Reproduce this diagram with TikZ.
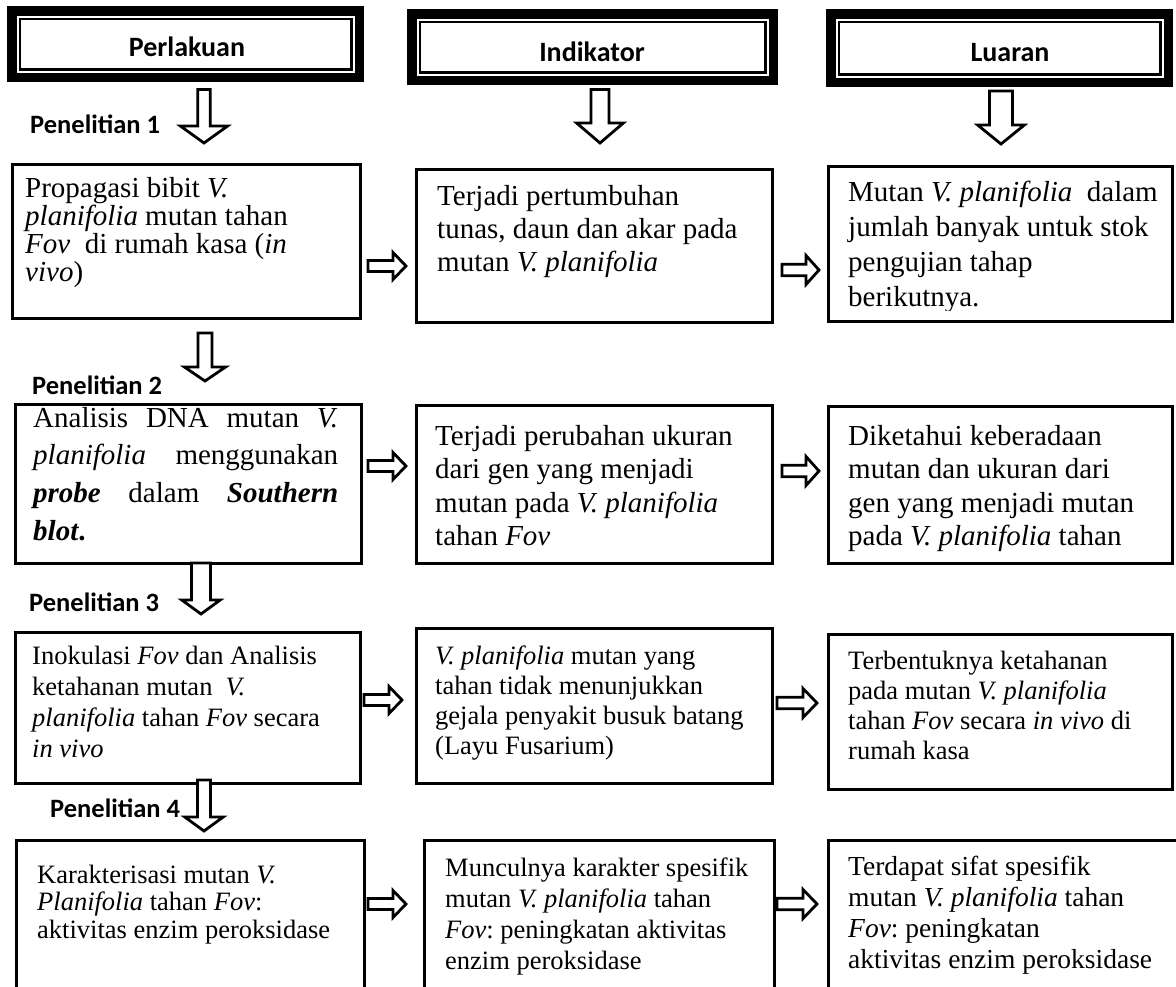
\documentclass[tikz,border=0pt]{standalone}
\usepackage{fontspec}
\setmainfont{Liberation Serif}
\newfontfamily\hdfont{Carlito}
\hbadness=10000 \hfuzz=200pt \vbadness=10000
\frenchspacing
\newcommand{\fs}[2]{\fontsize{#1pt}{#2pt}\selectfont}
\newcommand{\rtxt}[1]{\parbox[t]{420pt}{\raggedright\frenchspacing #1}}
\newcommand{\darrow}[6]{%
  \draw[blk] ({#1-#5},#2) -- ({#1+#5},#2) -- ({#1+#5},#3) -- ({#1+#6},#3) -- (#1,#4) -- ({#1-#6},#3) -- ({#1-#5},#3) -- cycle;}
\newcommand{\rarrow}[6]{%
  \draw[blk] (#1,{#4-#5}) -- (#2,{#4-#5}) -- (#2,{#4-#6}) -- (#3,#4) -- (#2,{#4+#6}) -- (#2,{#4+#5}) -- (#1,{#4+#5}) -- cycle;}
\tikzset{
  box/.style={draw, line width=3pt, inner sep=0pt, anchor=north west, rectangle},
  hdr/.style={inner sep=0pt, anchor=north west, rectangle},
  hdtxt/.style={inner sep=0pt, anchor=base, font=\hdfont\bfseries\fontsize{28pt}{32pt}\selectfont},
  pen/.style={inner sep=0pt, anchor=base west, font=\hdfont\bfseries\fontsize{26.5pt}{30pt}\selectfont},
  txt/.style={inner sep=0pt, anchor=base west},
  blk/.style={draw, line width=2.8pt, fill=white, line join=miter},
}
\begin{document}
\begin{tikzpicture}[x=1pt,y=-1pt]
\useasboundingbox (0,0) rectangle (1176,986);
\fill[white] (0,0) rectangle (1176,986);

% header boxes
\node[hdr, minimum width=357pt, minimum height=76pt] (H1) at (7,6) {};
\node[hdr, minimum width=371pt, minimum height=76pt] (H2) at (407,9) {};
\node[hdr, minimum width=347pt, minimum height=78pt] (H3) at (826,9) {};
\foreach \h in {H1,H2,H3}{
  \draw[line width=9.5pt] ([shift={(4.75,4.75)}]\h.north west) rectangle ([shift={(-4.75,-4.75)}]\h.south east);
  \draw[line width=2.3pt] ([shift={(13,13)}]\h.north west) rectangle ([shift={(-13,-13)}]\h.south east);
}
\node[hdtxt] (T1) at (187,56) {Perlakuan};
\node[hdtxt] (T2) at (592,61) {Indikator};
\node[hdtxt] (T3) at (1010,61) {Luaran};

% content boxes
\node[box, minimum width=348pt, minimum height=154pt] (L1) at (10.5,162.5) {};
\node[box, minimum width=356pt, minimum height=153pt] (M1) at (414.5,167.5) {};
\node[box, minimum width=344pt, minimum height=155pt] (R1) at (826.5,164.5) {};
\node[box, minimum width=346pt, minimum height=159pt] (L2) at (13.5,402.5) {};
\node[box, minimum width=356pt, minimum height=158pt] (M2) at (414.5,403.5) {};
\node[box, minimum width=344pt, minimum height=157pt] (R2) at (826.5,404.5) {};
\node[box, minimum width=345pt, minimum height=151pt] (L3) at (13.5,630.5) {};
\node[box, minimum width=356pt, minimum height=155pt] (M3) at (414.5,626.5) {};
\node[box, minimum width=344pt, minimum height=155pt] (R3) at (826.5,632.5) {};
\node[box, minimum width=348pt, minimum height=200pt] (L4) at (14.5,838.5) {};
\node[box, minimum width=350pt, minimum height=200pt] (M4) at (422.5,838.5) {};
\node[box, minimum width=380pt, minimum height=200pt] (R4) at (826.5,838.5) {};

% down arrows
\darrow{204}{89.4}{126}{143}{6.3}{23.6}
\darrow{600}{89.4}{123}{143}{9}{23.4}
\darrow{1001}{91}{125}{144}{11.5}{23.4}
\darrow{205}{333}{367}{381}{7}{20.6}
\darrow{201}{563}{600}{614}{9.5}{19.2}
\darrow{204}{780}{817}{831}{6.5}{19.2}

% right arrows
\rarrow{368}{393}{406}{266}{5.5}{13.5}
\rarrow{782}{806}{819}{270}{5.8}{14.5}
\rarrow{368}{393}{406}{466}{5.5}{13.5}
\rarrow{782}{806}{819}{471}{5.8}{14.5}
\rarrow{364}{389}{402}{700}{5.5}{13.5}
\rarrow{777}{803}{817}{703}{5.8}{14.5}
\rarrow{368}{393}{406}{904}{5.5}{13.5}
\rarrow{777}{803}{817}{904}{5.8}{14.5}

% labels
\node[pen] (P1) at (30,133) {Penelitian 1};
\node[pen] (P2) at (32,394) {Penelitian 2};
\node[pen] (P3) at (29,611) {Penelitian 3};
\node[pen] (P4) at (50,817) {Penelitian 4};

% texts
\node[txt] (L1t) at (25,197) {\rtxt{\fs{29}{28.3}Propagasi bibit \textit{V.}\\\textit{planifolia} mutan tahan\\\textit{Fov}\ \ di rumah kasa (\textit{in}\\\textit{vivo})}};
\node[txt] (M1t) at (437,205) {\rtxt{\fs{29}{33}Terjadi pertumbuhan\\tunas, daun dan akar pada\\mutan \textit{V. planifolia}}};
\begin{scope}
  \clip ([shift={(1.5,1.5)}]R1.north west) rectangle ([shift={(-1.5,-12)}]R1.south east);
  \node[txt] (R1t) at (848,201) {\rtxt{\fs{29}{35}Mutan \textit{V. planifolia}\ \ dalam\\jumlah banyak untuk stok\\pengujian tahap\\berikutnya.}};
\end{scope}
\node[txt] (L2t) at (33,427) {\parbox[t]{305pt}{\fs{29}{37.7}\frenchspacing\parindent=0pt\parfillskip=0pt plus 1fil Analisis DNA mutan \textit{V.}\linebreak \textit{planifolia} menggunakan\linebreak \textbf{\textit{probe}} dalam \textbf{\textit{Southern}}\linebreak \textbf{\textit{blot}.}}};
\node[txt] (M2t) at (435,445) {\rtxt{\fs{29}{33.5}Terjadi perubahan ukuran\\dari gen yang menjadi\\mutan pada \textit{V. planifolia}\\tahan \textit{Fov}}};
\node[txt] (R2t) at (848,445) {\rtxt{\fs{29}{33.5}Diketahui keberadaan\\mutan dan ukuran dari\\gen yang menjadi mutan\\pada \textit{V. planifolia} tahan}};
\node[txt] (L3t) at (32,664) {\rtxt{\fs{26.5}{31}Inokulasi \textit{Fov} dan Analisis\\ketahanan mutan\ \ \textit{V.}\\\textit{planifolia} tahan \textit{Fov} secara\\\textit{in vivo}}};
\node[txt] (M3t) at (435,664) {\rtxt{\fs{26.5}{30}\textit{V. planifolia} mutan yang\\tahan tidak menunjukkan\\gejala penyakit busuk batang\\(Layu Fusarium)}};
\node[txt] (R3t) at (848,669) {\rtxt{\fs{26.5}{30}Terbentuknya ketahanan\\pada mutan \textit{V. planifolia}\\tahan \textit{Fov} secara \textit{in vivo} di\\rumah kasa}};
\node[txt] (L4t) at (37,883) {\rtxt{\fs{26.5}{27.5}Karakterisasi mutan \textit{V.}\\\textit{Planifolia} tahan \textit{Fov}:\\aktivitas enzim peroksidase}};
\node[txt] (M4t) at (445,876) {\rtxt{\fs{26.5}{31.3}Munculnya karakter spesifik\\mutan \textit{V. planifolia} tahan\\\textit{Fov}: peningkatan aktivitas\\enzim peroksidase}};
\node[txt] (R4t) at (848,875) {\rtxt{\fs{27.5}{31}Terdapat sifat spesifik\\mutan \textit{V. planifolia} tahan\\\textit{Fov}: peningkatan\\aktivitas enzim peroksidase}};
\end{tikzpicture}
\end{document}
